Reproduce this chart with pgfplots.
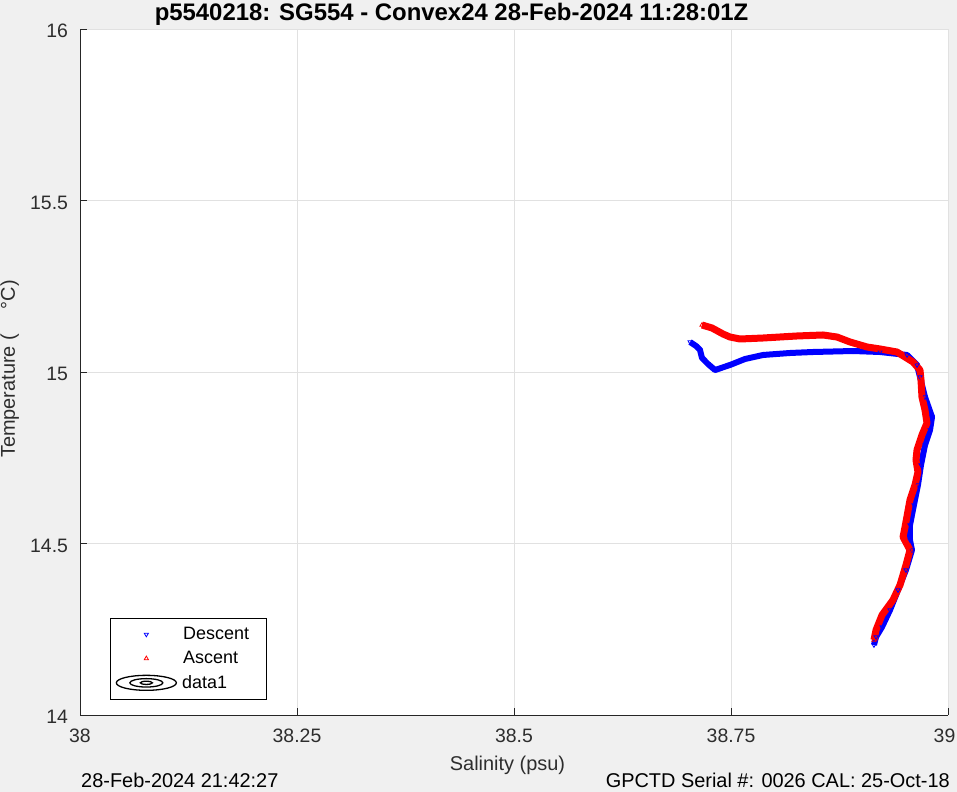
\documentclass[border=0pt]{standalone}
\usepackage{pgfplots}
\pgfplotsset{compat=1.18}
\usepackage{fontspec}
\setmainfont{Liberation Sans}
\definecolor{figbg}{RGB}{240,240,240}
\definecolor{axgray}{RGB}{38,38,38}
\definecolor{gridgray}{RGB}{225,225,225}
\definecolor{labgray}{RGB}{45,45,45}
\pgfplotsset{
  markleg/.style={legend image code/.code={\path (0bp,0bp) (61bp,0bp); \draw[##1] plot coordinates {(30.5bp,0bp)};}},
}
\begin{document}
\begin{tikzpicture}
\fill[figbg] (0,0) rectangle (957bp,792bp);
\useasboundingbox (0,0) rectangle (957bp,792bp);
\begin{axis}[
  at={(80bp,77bp)}, anchor=south west,
  scale only axis, width=868bp, height=686bp,
  xmin=38, xmax=39, ymin=14, ymax=16,
  xtick={38,38.25,38.5,38.75,39}, xticklabels={38,38.25,38.5,38.75,{39\kern7bp}},
  ytick={14,14.5,15,15.5,16}, yticklabels={14,14.5,15,15.5,16},
  axis x line=bottom, axis y line=left,
  axis line style={-, axgray},
  axis background/.style={fill=white},
  tick align=inside, major tick length=7bp,
  tick style={axgray},
  grid=major, grid style={gridgray, line width=0.8bp},
  ticklabel style={font=\fontsize{19.5}{19.5}\selectfont, text=labgray},
  xticklabel style={anchor=base, yshift=-28bp},
  yticklabel style={xshift=-8.5bp, yshift=-2bp},
  xlabel={Salinity (psu)},
  xlabel style={at={(axis description cs:0.4925,-0.0816)}, anchor=base, font=\fontsize{20}{20}\selectfont, text=labgray},
  ylabel={Temperature (\hspace{1.25em}°C)},
  ylabel style={at={(axis description cs:-0.0749,0.5044)}, anchor=base, font=\fontsize{20}{20}\selectfont, text=labgray},
  legend style={at={(axis description cs:0.0346,0.0219)}, anchor=south west,
    draw=black, line width=0.8bp, fill=white, font=\fontsize{18}{18}\selectfont,
    row sep=6.2bp, inner xsep=5bp, inner ysep=7.5bp, nodes={inner sep=2bp}},
  legend cell align=left,
  clip=false,
]
% descent (blue)
\addplot[blue, line width=6bp, line join=round, forget plot] coordinates {
(38.7028,15.0875) (38.7097,15.0758) (38.7143,15.0641) (38.7166,15.0408)
(38.7235,15.0233) (38.7316,15.0058) (38.7488,15.0204) (38.7661,15.0379)
(38.7869,15.0496) (38.8180,15.0554) (38.8445,15.0583) (38.8906,15.0612)
(38.9217,15.0583) (38.9528,15.0496) (38.9643,15.0204) (38.9677,14.9854)
(38.9735,14.9271) (38.9816,14.8688) (38.9793,14.8309) (38.9735,14.7872)
(38.9689,14.7289) (38.9654,14.6706) (38.9608,14.6122) (38.9562,14.5539)
(38.9562,14.5102) (38.9585,14.4810) (38.9516,14.4227) (38.9424,14.3644)
(38.9332,14.3061) (38.9240,14.2566) (38.9171,14.2274) (38.9147,14.2041)
};
\addplot[blue, only marks, mark=triangle, mark size=2.4bp, mark options={rotate=180, line width=0.8bp}, markleg] coordinates {
(38.7028,15.0875) (38.7097,15.0758) (38.7143,15.0641) (38.7166,15.0408)
(38.7235,15.0233) (38.7316,15.0058) (38.7488,15.0204) (38.7661,15.0379)
(38.7869,15.0496) (38.8180,15.0554) (38.8445,15.0583) (38.8906,15.0612)
(38.9217,15.0583) (38.9528,15.0496) (38.9643,15.0204) (38.9677,14.9854)
(38.9735,14.9271) (38.9816,14.8688) (38.9793,14.8309) (38.9735,14.7872)
(38.9689,14.7289) (38.9654,14.6706) (38.9608,14.6122) (38.9562,14.5539)
(38.9562,14.5102) (38.9585,14.4810) (38.9516,14.4227) (38.9424,14.3644)
(38.9332,14.3061) (38.9240,14.2566) (38.9171,14.2274) (38.9147,14.2041)
};
\addlegendentry{\makebox[80bp][l]{\hspace*{4bp}Descent}}
% ascent (red)
\addplot[red, line width=7bp, line join=round, forget plot] coordinates {
(38.9147,14.2187) (38.9171,14.2478) (38.9240,14.2915) (38.9366,14.3353)
(38.9447,14.3790) (38.9516,14.4373) (38.9562,14.4810) (38.9482,14.5190)
(38.9505,14.5481) (38.9562,14.6268) (38.9620,14.6706) (38.9654,14.7085)
(38.9631,14.7434) (38.9643,14.7726) (38.9700,14.8163) (38.9758,14.8513)
(38.9735,14.8892) (38.9700,14.9271) (38.9689,14.9767) (38.9677,15.0058)
(38.9597,15.0292) (38.9412,15.0583) (38.9217,15.0671) (38.9067,15.0729)
(38.8871,15.0875) (38.8721,15.1020) (38.8560,15.1079) (38.8260,15.1050)
(38.7869,15.0991) (38.7604,15.0962) (38.7488,15.1020) (38.7408,15.1108)
(38.7281,15.1283) (38.7166,15.1370)
};
\addplot[red, only marks, mark=triangle, mark size=2.4bp, mark options={line width=0.8bp}, markleg] coordinates {
(38.9147,14.2187) (38.9171,14.2478) (38.9240,14.2915) (38.9366,14.3353)
(38.9447,14.3790) (38.9516,14.4373) (38.9562,14.4810) (38.9482,14.5190)
(38.9505,14.5481) (38.9562,14.6268) (38.9620,14.6706) (38.9654,14.7085)
(38.9631,14.7434) (38.9643,14.7726) (38.9700,14.8163) (38.9758,14.8513)
(38.9735,14.8892) (38.9700,14.9271) (38.9689,14.9767) (38.9677,15.0058)
(38.9597,15.0292) (38.9412,15.0583) (38.9217,15.0671) (38.9067,15.0729)
(38.8871,15.0875) (38.8721,15.1020) (38.8560,15.1079) (38.8260,15.1050)
(38.7869,15.0991) (38.7604,15.0962) (38.7488,15.1020) (38.7408,15.1108)
(38.7281,15.1283) (38.7166,15.1370)
};
\addlegendentry{\hspace*{4bp}Ascent}
\addlegendimage{legend image code/.code={
  \draw[black, line width=1.3bp] (30.5bp,0) ellipse (30bp and 7.5bp);
  \draw[black, line width=1.3bp] (30.5bp,0) ellipse (16.5bp and 4.2bp);
  \draw[black, line width=1.3bp] (30.5bp,0) ellipse (6bp and 1.6bp);
}}
\addlegendentry{\hspace*{3bp}data1}
\node[font=\bfseries\fontsize{24}{24}\selectfont, anchor=base] at (axis description cs:0.4281,1.0117) {p5540218: SG554 - Convex24 28-Feb-2024 11:28:01Z};
\node[font=\fontsize{20}{20}\selectfont, anchor=base west, inner sep=0pt] at (axis description cs:0.0012,-0.1064) {28-Feb-2024 21:42:27};
\node[font=\fontsize{20}{20}\selectfont, anchor=base east, inner sep=0pt] at (axis description cs:1.0023,-0.1064) {GPCTD Serial \#: 0026 CAL: 25-Oct-18};
\end{axis}
\end{tikzpicture}
\end{document}
